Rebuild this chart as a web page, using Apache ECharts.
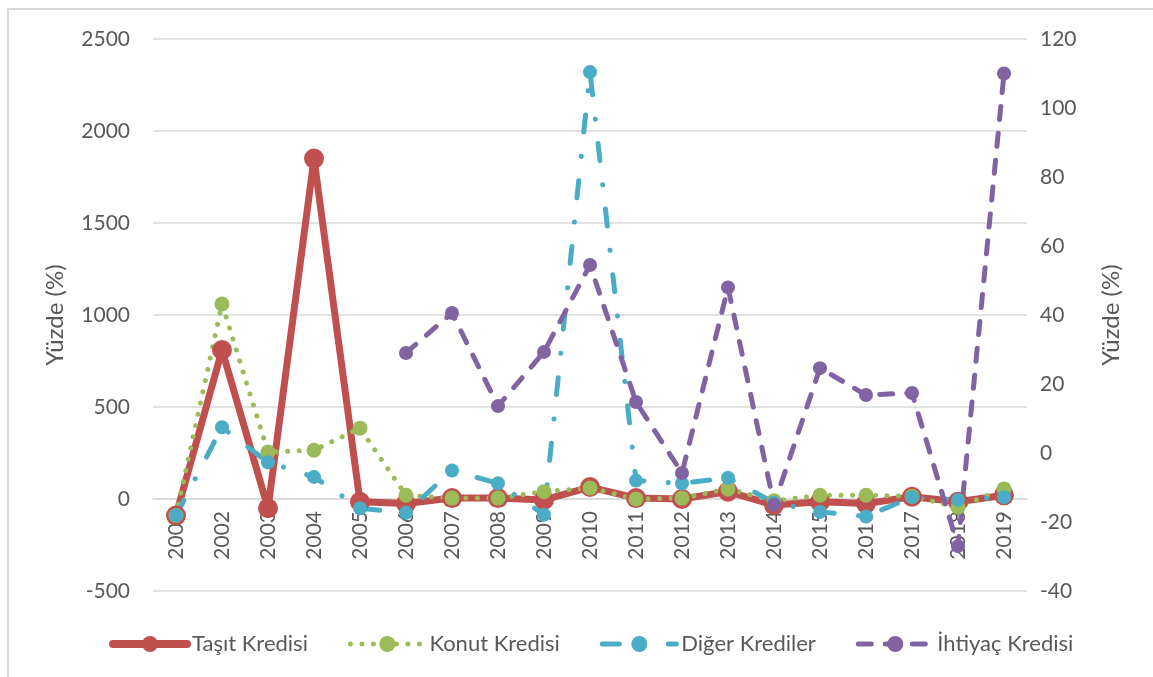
<!DOCTYPE html>
<html>
<head>
<meta charset="utf-8">
<script src="https://cdn.jsdelivr.net/npm/echarts@6/dist/echarts.min.js"></script>
<style>
  html, body { margin: 0; padding: 0; background: #fff; }
  #chart { width: 1153px; height: 677px; }
</style>
</head>
<body>
<div id="chart"></div>
<script>
// yillar
const years = ['2001', '2002', '2003', '2004', '2005', '2006', '2007', '2008', '2009', '2010',
  '2011', '2012', '2013', '2014', '2015', '2016', '2017', '2018', '2019']
// sol eksen (%)
const tasit = [-90, 810, -50, 1850, -15, -25, 5, 5, -5, 65, 5, 0, 40, -33, -15, -25, 12, -15, 20]
const konut = [-90, 1060, 255, 265, 385, 20, 5, 5, 40, 60, 0, 5, 55, -10, 20, 20, 15, -45, 55]
const diger = [-90, 390, 200, 120, -50, -75, 155, 85, -85, 2320, 100, 85, 115, -20, -70, -95, 10, -5, 10]
// sag eksen (%)
const ihtiyac = [null, null, null, null, null, 29, 40.6, 13.6, 29.3, 54.5, 14.8, -5.8, 48, -15, 24.6, 16.8, 17.4, -27, 110]

const leftTicks = { min: -500, max: 2500, interval: 500 }
const rightTicks = { min: -40, max: 120, interval: 20 }

const txt = '#595959'
const font = 'Lato, "Open Sans", sans-serif'
const colors = { tasit: '#C0504D', konut: '#9BBB59', diger: '#4BACC6', ihtiyac: '#8064A2' }

// cizgi tipleri
const dotted = [0.01, 11.5]
const dashDot = [17, 24.5, 0.01, 24.5]
const dashed = [13, 14]

const plain = v => String(v)

const chart = echarts.init(document.getElementById('chart'))
const option = {
  animation: false,
  textStyle: { fontFamily: font },
  graphic: [{
    type: 'rect',
    shape: { x: 8, y: 9, width: 1300, height: 800 },
    style: { fill: 'none', stroke: '#d9d9d9', lineWidth: 2 },
    silent: true,
    z: -10
  }],
  grid: { left: 153, right: 126, top: 39, bottom: 86 },
  legend: {
    left: 109,
    top: 633,
    padding: 0,
    itemWidth: 74,
    itemHeight: 20,
    itemGap: 40,
    textStyle: { color: txt, fontSize: 22, fontFamily: font },
    data: [
      { name: 'Taşıt Kredisi', lineStyle: { width: 8, color: colors.tasit, cap: 'round' } },
      { name: 'Konut Kredisi', lineStyle: { width: 5, color: colors.konut, type: dotted, cap: 'round' } },
      { name: 'Diğer Krediler', lineStyle: { width: 5, color: colors.diger, type: dashDot, cap: 'round' } },
      { name: 'İhtiyaç Kredisi', lineStyle: { width: 5, color: colors.ihtiyac, type: dashed, cap: 'round' } }
    ]
  },
  xAxis: {
    type: 'category',
    data: years,
    boundaryGap: true,
    offset: -92,
    axisLine: { onZero: false, lineStyle: { color: '#d9d9d9', width: 1.5 } },
    axisTick: { show: false },
    axisLabel: { rotate: 90, color: txt, fontSize: 21, margin: 12, fontFamily: font }
  },
  yAxis: [
    {
      type: 'value',
      min: leftTicks.min,
      max: leftTicks.max,
      interval: leftTicks.interval,
      name: 'Yüzde (%)',
      nameLocation: 'middle',
      nameRotate: 90,
      nameGap: 86,
      nameTextStyle: { color: txt, fontSize: 24, fontFamily: font },
      axisLine: { show: false },
      axisTick: { show: false },
      axisLabel: { color: txt, fontSize: 21, margin: 23, fontFamily: font, formatter: plain },
      splitLine: { lineStyle: { color: '#d9d9d9', width: 1.5 } }
    },
    {
      type: 'value',
      min: rightTicks.min,
      max: rightTicks.max,
      interval: rightTicks.interval,
      name: 'Yüzde (%)',
      nameLocation: 'middle',
      nameRotate: 90,
      nameGap: 72,
      nameTextStyle: { color: txt, fontSize: 24, fontFamily: font },
      axisLine: { show: false },
      axisTick: { show: false },
      axisLabel: { color: txt, fontSize: 21, margin: 13, fontFamily: font, formatter: plain },
      splitLine: { show: false }
    }
  ],
  series: [
    {
      name: 'Taşıt Kredisi',
      type: 'line',
      yAxisIndex: 0,
      data: tasit,
      symbol: 'circle',
      symbolSize: 20,
      itemStyle: { color: colors.tasit },
      lineStyle: { color: colors.tasit, width: 7, join: 'round' }
    },
    {
      name: 'Konut Kredisi',
      type: 'line',
      yAxisIndex: 0,
      data: konut,
      symbol: 'circle',
      symbolSize: 15,
      itemStyle: { color: colors.konut },
      lineStyle: { color: colors.konut, width: 5, type: dotted, cap: 'round' }
    },
    {
      name: 'Diğer Krediler',
      type: 'line',
      yAxisIndex: 0,
      data: diger,
      symbol: 'circle',
      symbolSize: 14,
      itemStyle: { color: colors.diger },
      lineStyle: { color: colors.diger, width: 5, type: dashDot, cap: 'round' }
    },
    {
      name: 'İhtiyaç Kredisi',
      type: 'line',
      yAxisIndex: 1,
      data: ihtiyac,
      symbol: 'circle',
      symbolSize: 14,
      itemStyle: { color: colors.ihtiyac },
      lineStyle: { color: colors.ihtiyac, width: 5, type: dashed, cap: 'round' }
    }
  ]
}
chart.setOption(option)
</script>
</body>
</html>
